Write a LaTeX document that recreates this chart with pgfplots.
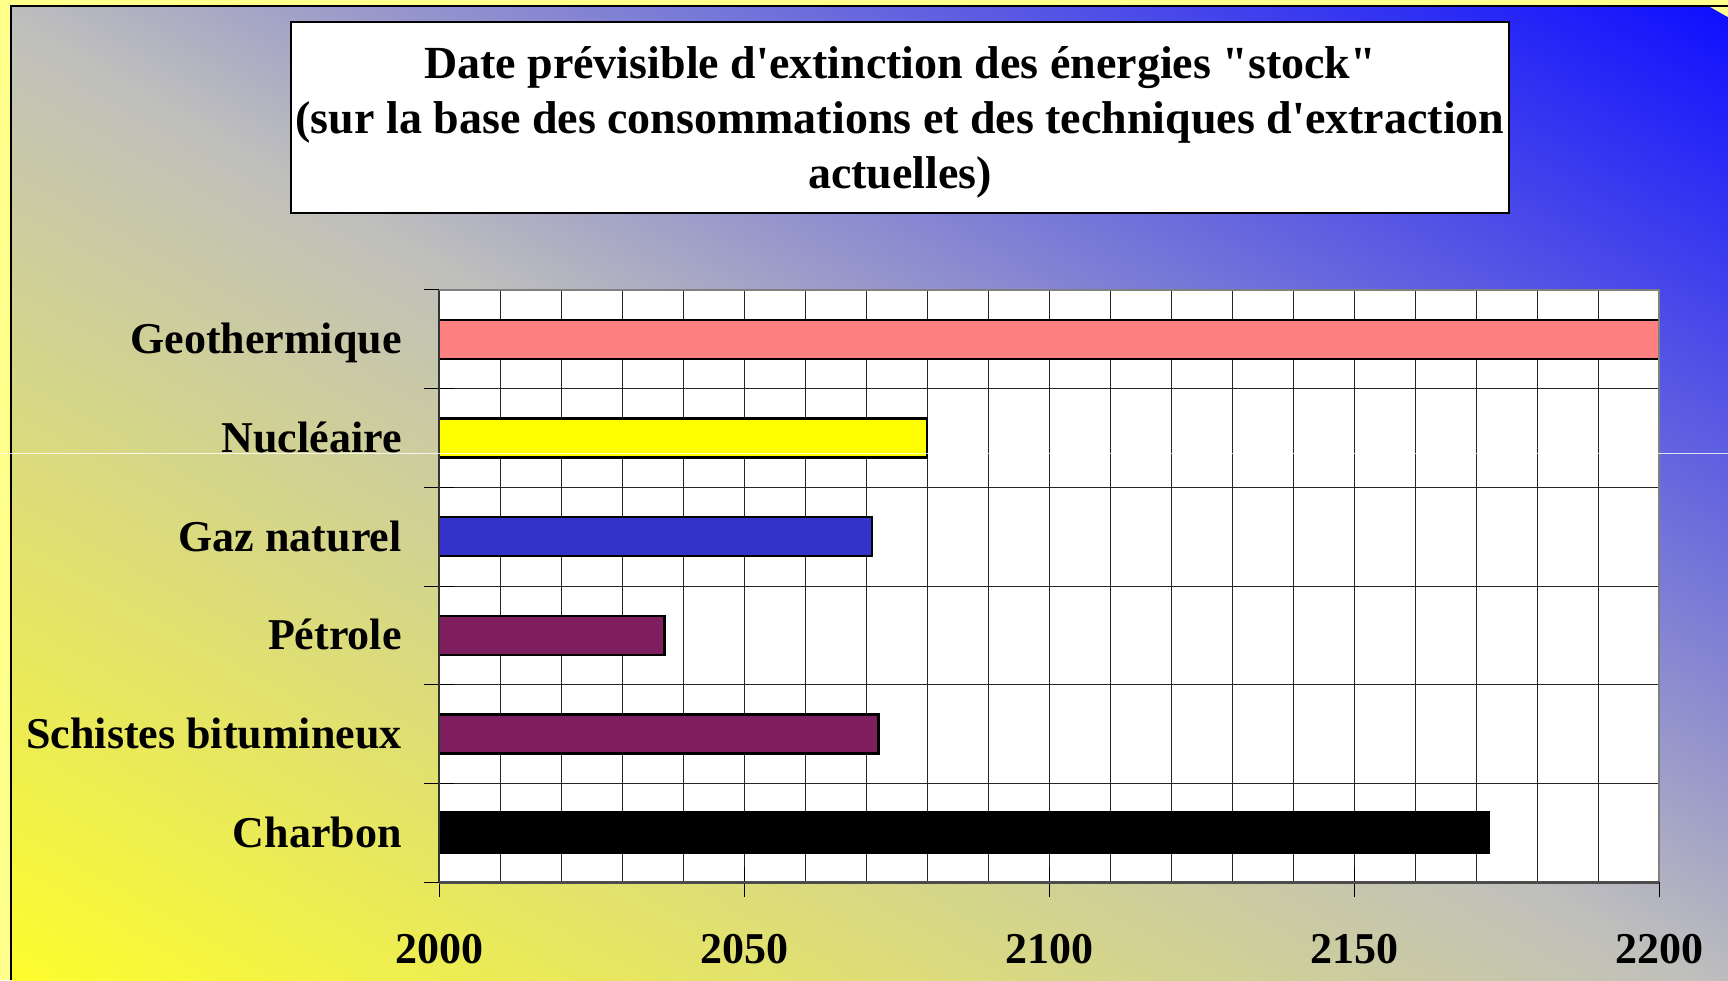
\documentclass[border=0pt]{standalone}
\usepackage{fontspec}
\setmainfont{Liberation Serif}
\usepackage{pgfplots}
\pgfplotsset{compat=1.18}
\definecolor{frameyel}{HTML}{FFFF8C}
\definecolor{bgyel}{HTML}{FFFF28}
\definecolor{bggray}{HTML}{C0C0BC}
\definecolor{bgblue}{HTML}{1010FF}
\definecolor{geo}{HTML}{FF8080}
\definecolor{nuc}{HTML}{FFFF00}
\definecolor{gaz}{HTML}{3333CC}
\definecolor{petr}{HTML}{7F1F5F}
\newcommand\lab{\bfseries\fontsize{22}{26}\selectfont}
\newcommand\tit{\bfseries\fontsize{23}{27.5}\selectfont}

\begin{document}
\begin{tikzpicture}
% background: yellow (bottom left) -> grey -> blue (top right)
\fill[frameyel] (0pt,0pt) rectangle (864pt,490pt);
\begin{scope}
\clip (5.5pt,0pt) rectangle (864pt,487pt);
\shade[transform canvas={rotate around={-29.6:(434.75pt,233pt)}},
  bottom color=bgyel, top color=bgblue, middle color=bggray]
  (-300pt,-195pt) rectangle (1170pt,661pt);
\end{scope}
\draw[black, line width=0.6pt] (5.5pt,0pt) -- (5.5pt,487pt) -- (864pt,487pt);

% title box
\draw[fill=white, line width=0.6pt] (145.5pt,383.5pt) rectangle (754.5pt,479pt);
\node[anchor=base, inner sep=0pt, font=\tit] at (450pt,450.5pt)
  {Date prévisible d\textquotesingle extinction des énergies \textquotedbl stock\textquotedbl};
\node[anchor=base, inner sep=0pt, font=\tit] at (450pt,423pt)
  {(sur la base des consommations et des techniques d\textquotesingle extraction};
\node[anchor=base, inner sep=0pt, font=\tit] at (450pt,395.5pt) {actuelles)};

\begin{axis}[
  at={(219.5pt,49pt)}, anchor=south west,
  scale only axis, width=610pt, height=296pt,
  xmin=2000, xmax=2200, ymin=-0.5, ymax=5.5,
  xbar, bar width=19.5pt, bar shift=0pt,
  clip mode=individual,
  axis background/.style={fill=white},
  axis line style={draw=none},
  tick pos=left,
  xtick={2000,2050,2100,2150,2200},
  xticklabels={2000,2050,2100,2150,2200},
  minor xtick={2000,2010,...,2200},
  xmajorgrids, xminorgrids,
  ytick={0,1,2,3,4,5},
  yticklabels={Charbon,Schistes bitumineux,Pétrole,Gaz naturel,Nucléaire,Geothermique},
  minor ytick={-0.5,0.5,1.5,2.5,3.5,4.5,5.5},
  yminorgrids,
  major grid style={black!85, line width=0.5pt},
  minor grid style={black!85, line width=0.5pt},
  tick align=center,
  major tick length=15pt, minor tick length=15pt,
  major y tick style={draw=none},
  minor x tick style={draw=none},
  tick style={black, line width=0.5pt},
  xticklabel style={font=\lab, inner sep=0pt, anchor=base, yshift=-33pt},
  yticklabel style={font=\lab, inner sep=0pt, anchor=base east, yshift=-7.3pt, xshift=-11pt},
  every axis plot/.append style={draw=black, line width=1.3pt},
]
\addplot[fill=black, line width=2pt] coordinates {(2172,0)};
\addplot[fill=petr] coordinates {(2072,1)};
\addplot[fill=petr] coordinates {(2037,2)};
\addplot[fill=gaz] coordinates {(2071,3)};
\addplot[fill=nuc] coordinates {(2080,4)};
\addplot[fill=geo] coordinates {(2200,5)};
\draw[black!80, line width=1pt] (rel axis cs:0,0) -- (rel axis cs:0,1);
\draw[black!50, line width=1.4pt] (rel axis cs:0,1) -- (rel axis cs:1,1) -- (rel axis cs:1,0);
\draw[black!70, line width=1.5pt] (rel axis cs:0,0) -- (rel axis cs:1,0);
\end{axis}

% thin white scan line of the original
\draw[white, opacity=0.8, line width=0.5pt] (0pt,263pt) -- (864pt,263pt);

\pgfresetboundingbox
\path[use as bounding box] (0pt,0pt) rectangle (864pt,490pt);
\end{tikzpicture}
\end{document}
